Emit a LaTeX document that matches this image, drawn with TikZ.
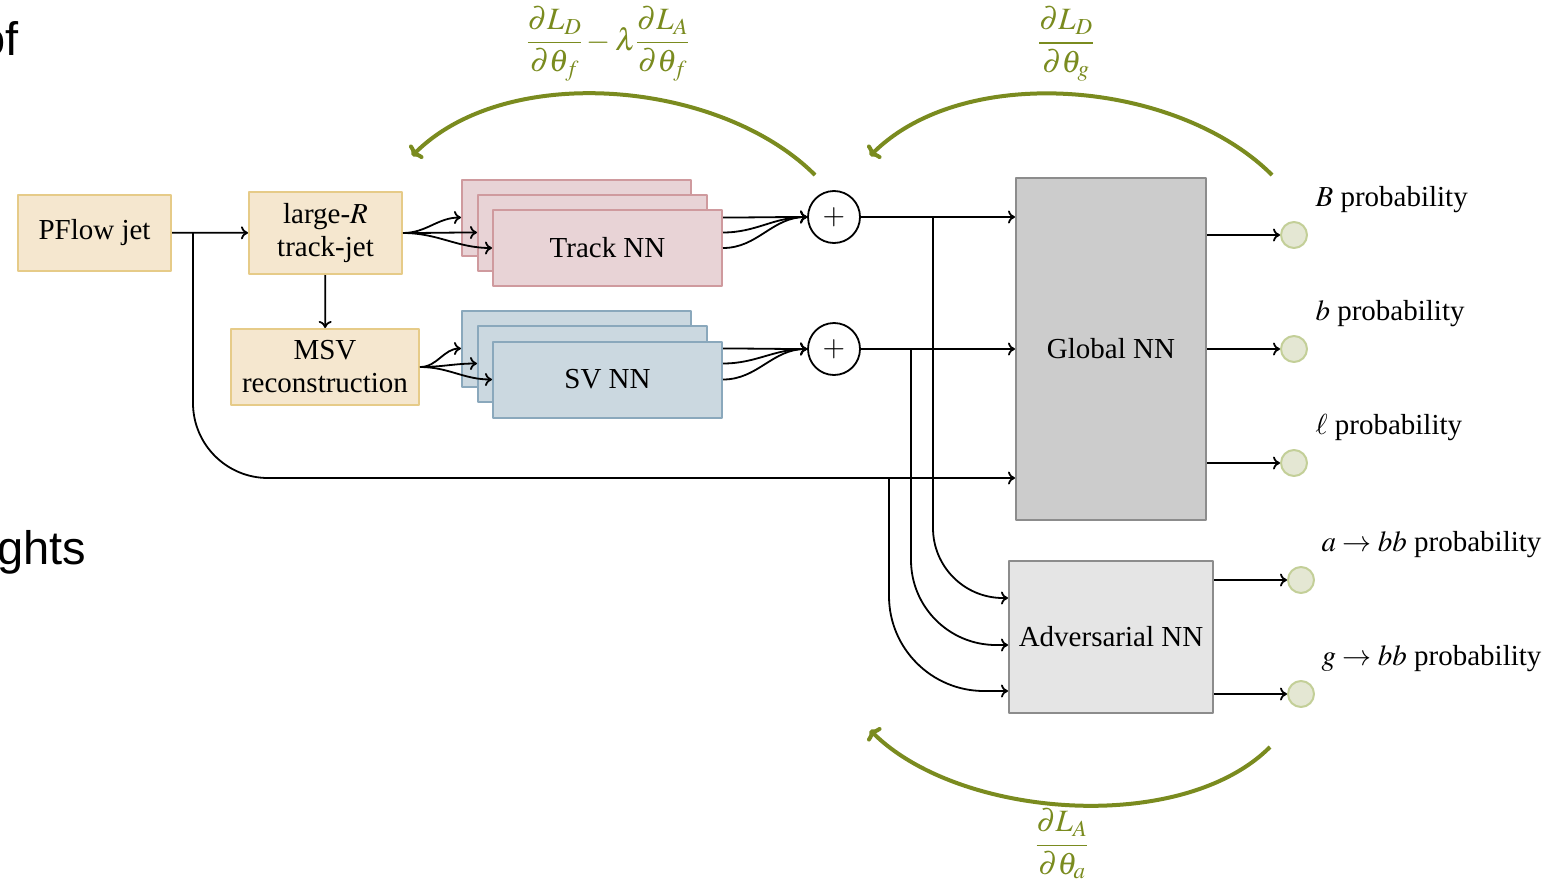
\documentclass[tikz,border=0pt]{standalone}
\usepackage{mathptmx}
\usepackage{fontspec}
\setmainfont{Liberation Serif}
\newfontfamily\slidefont{Liberation Sans}
\usetikzlibrary{arrows.meta}
\definecolor{jetfill}{HTML}{F5E7CF}
\definecolor{jetdraw}{HTML}{E6CB88}
\definecolor{trkfill}{HTML}{E8D3D6}
\definecolor{trkdraw}{HTML}{CF9A9E}
\definecolor{svfill}{HTML}{CBD8E0}
\definecolor{svdraw}{HTML}{8AA8BC}
\definecolor{nndraw}{HTML}{8C8C8C}
\definecolor{gradgreen}{HTML}{7A8B1F}
\definecolor{outfill}{HTML}{E4E7D3}
\definecolor{outdraw}{HTML}{C3CF98}
\begin{document}
\begin{tikzpicture}[x=1pt, y=-1pt, font=\fontsize{29}{33}\selectfont, line join=round, >={To[length=7pt,width=13pt]},
	jetbox/.style={draw=jetdraw, fill=jetfill, line width=2pt, align=center, inner sep=0pt, minimum height=76pt},
	trkbox/.style={draw=trkdraw, fill=trkfill, line width=2pt, inner sep=0pt, minimum width=229pt, minimum height=76pt},
	svbox/.style={draw=svdraw, fill=svfill, line width=2pt, inner sep=0pt, minimum width=229pt, minimum height=76pt},
	nnbox/.style={draw=nndraw, line width=2pt, inner sep=0pt},
	sumnode/.style={circle, draw, line width=1.8pt, minimum size=52pt, inner sep=0pt},
	outnode/.style={circle, draw=outdraw, fill=outfill, line width=2pt, minimum size=26pt, inner sep=0pt},
	conn/.style={->, line width=1.8pt},
	grad/.style={->, >={To[length=8pt,width=19pt]}, line width=4pt, draw=gradgreen, looseness=0.85},
	gradlbl/.style={text=gradgreen, inner sep=0pt, font=\fontsize{31}{34}\selectfont}]
	\useasboundingbox (0,0) rectangle (1565,883);
	\node[font=\slidefont\fontsize{47}{50}\selectfont, anchor=base east] (txtof) at (22,56) {of};
	\node[font=\slidefont\fontsize{47}{50}\selectfont, anchor=base east] (txtghts) at (90,564) {ghts};
	\node[jetbox, minimum width=153pt] (pj) at (94.5,232.5) {PFlow jet};
	\node[jetbox, minimum width=153pt, minimum height=82pt] (lrj) at (325.5,233) {large-$R$\\track-jet};
	\node[jetbox, minimum width=188pt] (msv) at (325,367) {MSV\\reconstruction};
	\node[trkbox] (trkA) at (576.5,217.5) {};
	\node[trkbox] (trkB) at (592.5,232.5) {};
	\node[trkbox] (trkC) at (607.5,248) {Track NN};
	\node[svbox] (svA) at (576.5,348.5) {};
	\node[svbox] (svB) at (592.5,363.5) {};
	\node[svbox] (svC) at (607.5,379.5) {SV NN};
	\node[sumnode] (plusT) at (834,217) {$+$};
	\node[sumnode] (plusS) at (834,349) {$+$};
	\node[nnbox, fill=black!20, minimum width=190pt, minimum height=342pt] (glob) at (1111,349) {Global NN};
	\node[nnbox, fill=black!10, minimum width=204pt, minimum height=152pt] (adv) at (1111,637) {Adversarial NN};
	\foreach \n/\y/\t in {oB/235/{$B$ probability}, ob/349/{$b$ probability}, ol/463/{$\ell$ probability}}{
		\node[outnode] (\n) at (1294,\y) {};
		\node[anchor=west] (\n lbl) at (1312,\y-35) {\t};
		\draw[conn] (glob.east |- \n) -- (\n);
	}
	\foreach \n/\y/\t in {oa/580/{$a\rightarrow bb$ probability}, og/694/{$g\rightarrow bb$ probability}}{
		\node[outnode] (\n) at (1301,\y) {};
		\node[anchor=west] (\n lbl) at (1318,\y-35) {\t};
		\draw[conn] (adv.east |- \n) -- (\n);
	}
	\coordinate (pjfork) at (193,233);
	\coordinate (brT) at (933,217);
	\coordinate (brS) at (911,349);
	\coordinate (brL) at (889,478);
	\draw[conn] (pj) -- (lrj);
	\draw[conn] (lrj) -- (msv);
	\draw[conn, rounded corners=75pt] (pjfork) |- (glob.west |- brL);
	\foreach \b in {trkA,trkB,trkC} \draw[conn] (lrj.east) to[out=0,in=180] (\b.west);
	\foreach \b in {svA,svB,svC} \draw[conn] (msv.east) to[out=0,in=180] (\b.west);
	\foreach \b in {trkA,trkB,trkC} \draw[conn] (trkC.east |- \b.east) to[out=0,in=180] (plusT.west);
	\foreach \b in {svA,svB,svC} \draw[conn] (svC.east |- \b.east) to[out=0,in=180] (plusS.west);
	\draw[conn] (plusT) -- (plusT -| glob.west);
	\draw[conn] (plusS) -- (glob.west);
	\draw[conn, rounded corners=70pt] (brT) |- (adv.west |- 0,598);
	\draw[conn, rounded corners=85pt] (brS) |- (adv.west |- 0,645);
	\draw[conn, rounded corners=95pt] (brL) |- (adv.west |- 0,691);
	\draw[grad] (815,175) to[out=135,in=45] (412,156);
	\draw[grad] (1272,175) to[out=135,in=45] (870,156);
	\draw[grad, looseness=0.8] (1270,747) to[out=-135,in=-45] (870,730);
	\node[gradlbl] (gradf) at (608,44) {$\displaystyle\frac{\partial L_D}{\partial\theta_f}-\lambda\frac{\partial L_A}{\partial\theta_f}$};
	\node[gradlbl] (gradg) at (1066,44) {$\displaystyle\frac{\partial L_D}{\partial\theta_g}$};
	\node[gradlbl] (grada) at (1062,844) {$\displaystyle\frac{\partial L_A}{\partial\theta_a}$};
\end{tikzpicture}
\end{document}
